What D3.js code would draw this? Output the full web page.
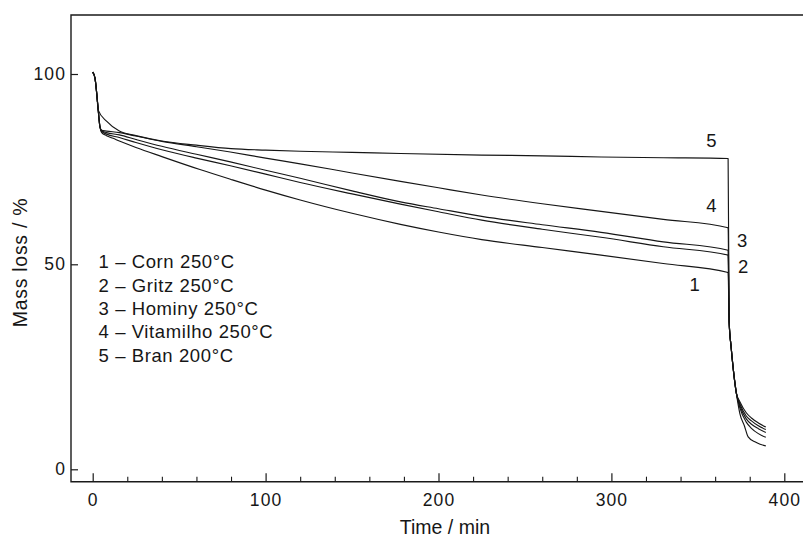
<!DOCTYPE html>
<html lang="en">
<head>
<meta charset="utf-8">
<title>Mass loss vs time</title>
<script src="https://d3js.org/d3.v7.min.js"></script>
<style>
  body { margin: 0; background: #fff; }
  svg { display: block; font-family: "Liberation Sans", Arial, sans-serif; }
  .tick text { fill: #161616; }
</style>
</head>
<body>
<div id="chart"></div>
<script>
// legend text and curve numbers
const legendLabels = ["1 – Corn 250°C", "2 – Gritz 250°C", "3 – Hominy 250°C", "4 – Vitamilho 250°C", "5 – Bran 200°C"];
const curveNames = ["1", "2", "3", "4", "5"];

// time (min) and mass (%)
const timeCorn = [0, 1.3, 2.3, 3.2, 4.2, 5.2, 8, 11.8, 15.4, 25, 40, 62, 80, 100, 120, 150, 178, 200, 225, 260, 294, 330, 367.5, 368.1, 369.2, 370.6, 372.3, 374.3, 377, 379.1, 383, 386, 389.3];
const massCorn = [100.5, 99, 95, 90.5, 86.1, 84.6, 83.8, 83.1, 82.4, 80.7, 78.3, 74.9, 72.3, 69.5, 66.9, 63.4, 60.5, 58.5, 56.5, 54.4, 52.4, 50.2, 48.0, 36, 30, 24, 18.5, 13.6, 10.5, 7.9, 6.7, 6.1, 5.7];

const timeGritz = [0, 1.3, 2.3, 3.2, 4.2, 5.2, 8, 15.4, 25, 40, 60, 79.6, 100, 120, 150, 178, 200, 225, 260, 294, 330, 367.5, 368.1, 369.2, 370.6, 372.3, 374.3, 378, 381, 385, 389.3];
const massGritz = [100.5, 99, 95, 90.5, 86.1, 84.9, 84.2, 83.3, 82.0, 80.1, 77.9, 75.9, 73.7, 71.5, 68.5, 65.8, 63.8, 61.6, 59.2, 57.1, 54.6, 52.4, 36, 30, 24, 18.5, 15, 11.5, 10, 8.7, 7.8];

const timeHominy = [0, 1.3, 2.3, 3.2, 4.2, 5.2, 8, 15.4, 25, 40, 60, 79.6, 100, 120, 150, 178, 200, 225, 260, 294, 330, 367.5, 368.1, 369.2, 370.6, 372.3, 374.3, 378, 381, 385, 389.3];
const massHominy = [100.5, 99, 95, 90.5, 86.1, 85.0, 84.6, 84.0, 82.8, 81.0, 78.9, 76.9, 74.7, 72.6, 69.3, 66.4, 64.6, 62.6, 60.4, 58.4, 55.9, 53.7, 36, 30, 24, 18.5, 15.5, 12.3, 11, 9.9, 9.0];

const timeVitamilho = [0, 1.3, 2.3, 3.2, 4.2, 5.2, 8, 15.4, 25, 40, 60, 79.6, 100, 120, 150, 178, 200, 225, 260, 294, 330, 367.5, 368.1, 369.2, 370.6, 372.3, 374.3, 378, 381, 385, 389.3];
const massVitamilho = [100.5, 99, 95, 90.5, 86.1, 85.2, 85.0, 84.6, 83.7, 82.3, 80.9, 79.5, 77.9, 76.4, 74.0, 71.8, 70.1, 68.2, 65.9, 63.9, 61.8, 59.6, 36, 30, 24, 18.5, 16, 13, 11.8, 10.6, 9.7];

const timeBran = [0, 1.3, 2.3, 3.2, 8, 15.4, 25, 40, 60, 80, 100, 120, 150, 178, 225, 260, 294, 330, 367.5, 368.1, 369.2, 370.6, 372.3, 374.3, 378, 381, 385, 389.3];
const massBran = [100.5, 99, 95, 90.5, 87.6, 85.0, 83.8, 82.4, 81.3, 80.4, 80.0, 79.7, 79.4, 79.1, 78.7, 78.5, 78.2, 78.0, 77.8, 36, 30, 24, 18.5, 16.5, 13.8, 12.5, 11.3, 10.3];

// where the curve numbers sit, in data units
const numberTime = [348.1, 376.2, 375.6, 357.8, 357.8];
const numberMass = [45.0, 49.4, 56.2, 65.6, 82.7];

const xTicks = [0, 100, 200, 300, 400];
const xMinorTicks = [20, 40, 60, 80, 120, 140, 160, 180, 220, 240, 260, 280, 320, 340, 360, 380];
const yTicks = [0, 50, 100];

const w = 803, h = 537;
const frame = { left: 71, right: 803, top: 15, bottom: 481.7 };

const svg = d3.select("#chart").append("svg")
    .attr("width", w)
    .attr("height", h);

const xScale = d3.scaleLinear().domain([0, 400]).range([92.7, 784.3]);
// the printed axis is not quite even, so map the three ticks separately
const yScale = d3.scaleLinear().domain([0, 50, 100]).range([469.3, 264.3, 74]);

const curves = [
    d3.zip(timeCorn, massCorn),
    d3.zip(timeGritz, massGritz),
    d3.zip(timeHominy, massHominy),
    d3.zip(timeVitamilho, massVitamilho),
    d3.zip(timeBran, massBran)
];

const line = d3.line()
    .x(d => xScale(d[0]))
    .y(d => yScale(d[1]))
    .curve(d3.curveMonotoneX);

svg.append("g")
    .selectAll("path")
    .data(curves)
    .enter().append("path")
    .attr("d", line)
    .attr("fill", "none")
    .attr("stroke", "#161616")
    .attr("stroke-width", 1.15)
    .attr("stroke-linejoin", "round");

// frame
svg.append("path")
    .attr("d", `M${frame.right},${frame.top}H${frame.left}V${frame.bottom}H${frame.right}`)
    .attr("fill", "none")
    .attr("stroke", "#1a1a1a")
    .attr("stroke-width", 1.4);

const xAxis = d3.axisBottom(xScale).tickValues(xTicks).tickSize(-8.5).tickPadding(12);
svg.append("g")
    .attr("transform", `translate(0, ${frame.bottom})`)
    .call(xAxis)
    .call(g => g.select(".domain").remove())
    .call(g => g.selectAll("line").attr("stroke", "#1a1a1a").attr("stroke-width", 1.2))
    .call(g => g.selectAll("text").attr("font-size", 17.5).attr("letter-spacing", "1.1px"));

svg.append("g")
    .attr("transform", `translate(0, ${frame.bottom})`)
    .call(d3.axisBottom(xScale).tickValues(xMinorTicks).tickSize(-5).tickFormat(""))
    .call(g => g.select(".domain").remove())
    .call(g => g.selectAll("line").attr("stroke", "#1a1a1a").attr("stroke-width", 1.1));

const yAxis = d3.axisLeft(yScale).tickValues(yTicks).tickSize(-7).tickPadding(5);
svg.append("g")
    .attr("transform", `translate(${frame.left}, 0)`)
    .call(yAxis)
    .call(g => g.select(".domain").remove())
    .call(g => g.selectAll("line").attr("stroke", "#1a1a1a").attr("stroke-width", 1.2))
    .call(g => g.selectAll("text").attr("font-size", 17.5).attr("letter-spacing", "1.1px"));

// axis titles
svg.append("text")
    .attr("x", 445)
    .attr("y", 534)
    .attr("text-anchor", "middle")
    .attr("font-size", 19.5)
    .attr("fill", "#161616")
    .text("Time / min");

svg.append("text")
    .attr("transform", "translate(27, 262.5) rotate(-90)")
    .attr("text-anchor", "middle")
    .attr("font-size", 19.5)
    .attr("letter-spacing", "0.7px")
    .attr("fill", "#161616")
    .text("Mass loss / %");

// curve numbers
svg.append("g")
    .selectAll("text")
    .data(curveNames)
    .enter().append("text")
    .attr("x", (d, i) => xScale(numberTime[i]))
    .attr("y", (d, i) => yScale(numberMass[i]))
    .attr("dy", "0.36em")
    .attr("text-anchor", "middle")
    .attr("font-size", 18.5)
    .attr("fill", "#161616")
    .text(d => d);

// legend
svg.append("g")
    .selectAll("text")
    .data(legendLabels)
    .enter().append("text")
    .attr("x", 98.5)
    .attr("y", (d, i) => 268.3 + i * 23.3)
    .attr("font-size", 18.5)
    .attr("letter-spacing", "0.6px")
    .attr("fill", "#161616")
    .text(d => d);
</script>
</body>
</html>
